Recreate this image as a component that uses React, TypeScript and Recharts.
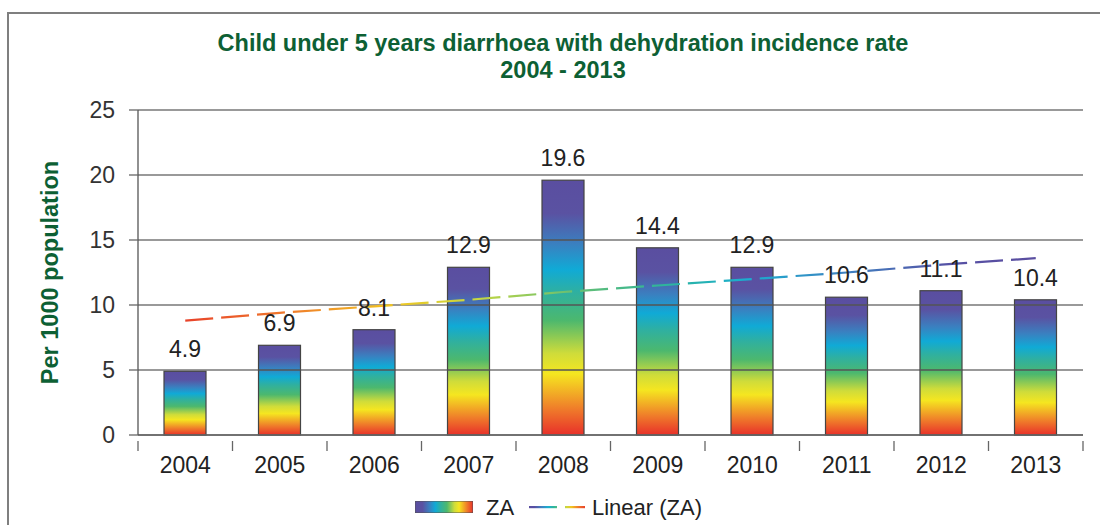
import React from "react";
import { ComposedChart, Bar, Line, XAxis, YAxis, CartesianGrid, LabelList, Label } from "recharts";

const years = ["2004", "2005", "2006", "2007", "2008", "2009", "2010", "2011", "2012", "2013"];
const zaValues = [4.9, 6.9, 8.1, 12.9, 19.6, 14.4, 12.9, 10.6, 11.1, 10.4];
const trendValues = [8.8, 9.4, 9.9, 10.4, 11.0, 11.5, 12.0, 12.5, 13.1, 13.6];
const yTicks = [0, 5, 10, 15, 20, 25];
const gridValues = [5, 10, 15, 20, 25];

const data = years.map((y, i) => ({ year: y, za: zaValues[i], trend: trendValues[i] }));

const FONT = "'Liberation Sans', Arial, Helvetica, sans-serif";
const GREEN = "#0d6034";
const GRID = "#777";

const barStops: [number, string][] = [
  [0, "#e8302a"],
  [0.1, "#ef7a2a"],
  [0.24, "#f5e620"],
  [0.32, "#cfdc3a"],
  [0.45, "#4cb86e"],
  [0.56, "#2fb0a0"],
  [0.65, "#10aad6"],
  [0.75, "#3a80c0"],
  [0.87, "#5a52a2"],
  [1, "#5a4ea0"],
];

const trendStops: [number, string][] = [
  [0, "#e8432a"],
  [0.12, "#ef7a2c"],
  [0.24, "#f2c41f"],
  [0.34, "#c8d840"],
  [0.45, "#6cc070"],
  [0.56, "#2fb59a"],
  [0.66, "#1aaed0"],
  [0.78, "#4080c0"],
  [0.9, "#5650a4"],
  [1, "#5a4ea0"],
];

const XTick = (props: any) => {
  const { x, y, payload, index } = props;
  const off = payload && payload.offset ? payload.offset : 47.25;
  const last = index === years.length - 1;
  return (
    <g>
      <line x1={x - off} x2={x - off} y1={y} y2={y + 10} stroke="#666" strokeWidth={1.3} />
      {last && <line x1={x + off} x2={x + off} y1={y} y2={y + 10} stroke="#666" strokeWidth={1.3} />}
      <text x={x} y={y + 32} textAnchor="middle" fontSize={23} fill="#222" fontFamily={FONT}>
        {payload.value}
      </text>
    </g>
  );
};

// Bar with gradient fill; the horizontal gridlines are repainted over it, as in the reference
const BarShape = (props: any) => {
  const { x, y, width, height, index } = props;
  const v = zaValues[index] ?? (props.payload ? props.payload.za : 0);
  if (!v || !height) return <g />;
  const pxPerUnit = height / v;
  const base = y + height;
  return (
    <g>
      <rect x={x} y={y} width={width} height={height} fill="url(#barGrad)" stroke="#444" strokeWidth={1.2} />
      {gridValues
        .filter((g) => g < v)
        .map((g) => (
          <line key={g} x1={x} x2={x + width} y1={base - g * pxPerUnit} y2={base - g * pxPerUnit} stroke="#555" strokeWidth={1.3} />
        ))}
    </g>
  );
};

export default function App() {
  return (
    <div style={{ position: "absolute", left: 0, top: 0, width: 1100, height: 525, background: "#fff", overflow: "hidden" }}>
      <div
        style={{
          position: "absolute",
          left: 7,
          top: 12,
          width: 1100,
          height: 520,
          borderLeft: "2px solid #7f7f7f",
          borderTop: "2px solid #7f7f7f",
        }}
      />
      <div
        style={{
          position: "absolute",
          left: 0,
          top: 30,
          width: 1126,
          textAlign: "center",
          fontFamily: FONT,
          fontSize: 23.5,
          fontWeight: "bold",
          lineHeight: "27px",
          color: GREEN,
        }}
      >
        Child under 5 years diarrhoea with dehydration incidence rate
        <br />
        2004 - 2013
      </div>
      <div style={{ position: "absolute", left: 0, top: 0 }}>
        <ComposedChart width={1100} height={525} data={data} margin={{ top: 110, right: 17, bottom: 50, left: 0 }}>
          <defs>
            <linearGradient id="barGrad" x1="0" y1="1" x2="0" y2="0">
              {barStops.map(([o, c]) => (
                <stop key={o} offset={o} stopColor={c} />
              ))}
            </linearGradient>
            <linearGradient id="trendGrad" x1="0" y1="0" x2="1" y2="0">
              {trendStops.map(([o, c]) => (
                <stop key={o} offset={o} stopColor={c} />
              ))}
            </linearGradient>
          </defs>
          <CartesianGrid vertical={false} stroke={GRID} strokeWidth={1.3} />
          <XAxis
            dataKey="year"
            height={40}
            axisLine={{ stroke: "#666", strokeWidth: 1.3 }}
            tickLine={false}
            tickMargin={0}
            tick={<XTick />}
            interval={0}
          />
          <YAxis
            width={138}
            domain={[0, 25]}
            ticks={yTicks}
            interval={0}
            tickSize={9}
            tickMargin={14}
            axisLine={{ stroke: "#555", strokeWidth: 1.3 }}
            tickLine={{ stroke: "#666", strokeWidth: 1.3 }}
            tick={{ fontSize: 23, fill: "#333", fontFamily: FONT }}
          >
            <Label
              value="Per 1000 population"
              angle={-90}
              position="center"
              dx={-19}
              style={{ fontSize: 23.5, fontWeight: "bold", fill: GREEN, fontFamily: FONT }}
            />
          </YAxis>
          <Bar dataKey="za" barSize={42} fill="#5a4ea0" shape={BarShape} isAnimationActive={false}>
            <LabelList dataKey="za" position="top" offset={14} style={{ fontSize: 23, fill: "#222", fontFamily: FONT }} />
          </Bar>
          <Line
            dataKey="trend"
            type="linear"
            stroke="url(#trendGrad)"
            strokeWidth={2.2}
            strokeDasharray="28 8"
            dot={false}
            activeDot={false}
            isAnimationActive={false}
          />
        </ComposedChart>
      </div>
      <div style={{ position: "absolute", left: 0, top: 495, width: 1100, height: 26, fontFamily: FONT, fontSize: 22, color: "#222" }}>
        <svg style={{ position: "absolute", left: 415, top: 6 }} width={58} height={12}>
          <defs>
            <linearGradient id="legRect" x1="1" y1="0" x2="0" y2="0">
              {barStops.map(([o, c]) => (
                <stop key={o} offset={o} stopColor={c} />
              ))}
            </linearGradient>
          </defs>
          <rect x={0} y={0} width={58} height={12} fill="url(#legRect)" stroke="#555" strokeWidth={1} />
        </svg>
        <span style={{ position: "absolute", left: 486, top: 0 }}>ZA</span>
        <svg style={{ position: "absolute", left: 529, top: 10 }} width={56} height={4}>
          <defs>
            <linearGradient id="legLine" gradientUnits="userSpaceOnUse" x1="56" y1="0" x2="0" y2="0">
              {trendStops.map(([o, c]) => (
                <stop key={o} offset={o} stopColor={c} />
              ))}
            </linearGradient>
          </defs>
          <rect x={0} y={1} width={28} height={2.2} fill="url(#legLine)" />
          <rect x={36} y={1} width={20} height={2.2} fill="url(#legLine)" />
        </svg>
        <span style={{ position: "absolute", left: 592, top: 0 }}>Linear (ZA)</span>
      </div>
    </div>
  );
}
